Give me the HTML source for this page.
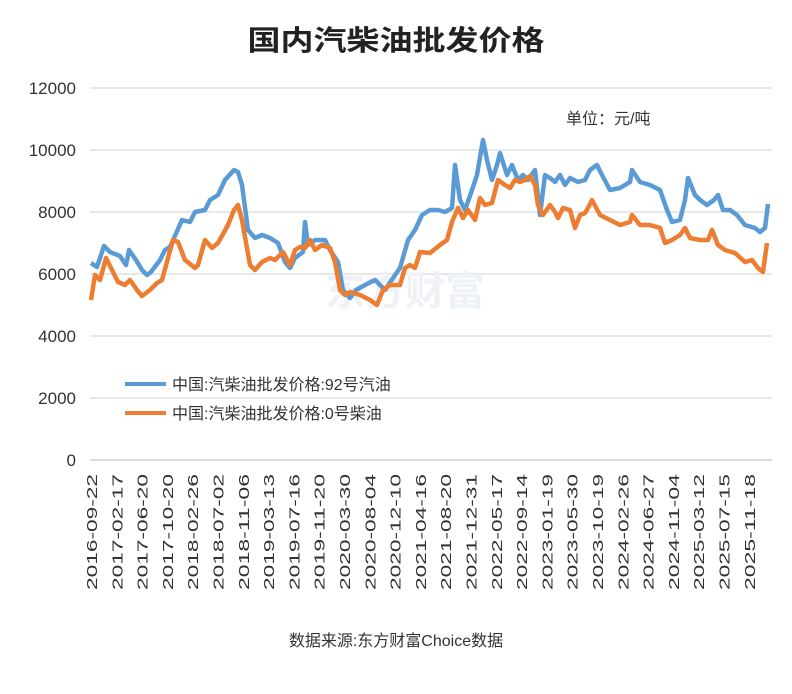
<!DOCTYPE html>
<html><head><meta charset="utf-8"><style>html,body{margin:0;padding:0;background:#fff}svg{display:block}</style></head>
<body>
<svg width="792" height="694" viewBox="0 0 792 694" xmlns="http://www.w3.org/2000/svg" font-family="'Liberation Sans','Noto Sans CJK SC',sans-serif">
<rect width="792" height="694" fill="#fff"/>
<text x="396" y="50" text-anchor="middle" font-size="28" font-weight="bold" fill="#222" textLength="297" lengthAdjust="spacingAndGlyphs">国内汽柴油批发价格</text>
<g stroke="#e0e0e0" stroke-width="1.5">
<line x1="90" y1="88" x2="772" y2="88"/><line x1="90" y1="150" x2="772" y2="150"/><line x1="90" y1="212" x2="772" y2="212"/><line x1="90" y1="274" x2="772" y2="274"/><line x1="90" y1="336" x2="772" y2="336"/><line x1="90" y1="398" x2="772" y2="398"/>
</g>
<line x1="90" y1="460" x2="772" y2="460" stroke="#d0d0d0" stroke-width="1.5"/>
<g font-size="17" fill="#333" text-anchor="end">
<text x="76" y="94">12000</text><text x="76" y="156">10000</text><text x="76" y="218">8000</text><text x="76" y="280">6000</text><text x="76" y="342">4000</text><text x="76" y="404">2000</text><text x="76" y="466">0</text>
</g>
<text x="566" y="124" font-size="16" fill="#333">单位：元/吨</text>
<text x="405" y="305" text-anchor="middle" font-size="40" font-weight="bold" fill="#eef2f6">东方财富</text>
<polyline fill="none" stroke="#5b9bd5" stroke-width="4.5" stroke-linejoin="round" points="91,263 97,267 104,246 110,252 120,256 126,265 129,250 136,260 142,270 147,275 151,272 160,260 165,250 170,247 182,220 190,222 195,212 205,210 210,200 218,195 225,180 234,170 238,172 242,185 248,230 255,238 262,235 270,238 278,243 285,262 290,268 295,258 303,252 305,222 308,245 315,240 325,240 330,250 338,262 343,290 350,298 356,290 365,285 375,280 385,290 393,278 400,268 408,240 415,230 422,215 430,210 438,210 445,212 452,208 455,165 460,200 465,210 472,190 477,175 483,140 487,160 492,180 497,165 500,153 507,175 512,165 518,180 523,175 528,180 535,170 540,215 545,175 550,178 555,182 560,175 565,185 570,178 578,182 585,180 590,170 597,165 602,175 610,190 620,188 630,182 632,170 640,182 650,185 660,190 667,210 672,222 680,220 685,200 688,178 695,195 700,200 707,205 714,200 718,195 723,210 730,210 737,215 745,225 755,228 760,232 765,228 768,204"/>
<polyline fill="none" stroke="#ed7d31" stroke-width="4.5" stroke-linejoin="round" points="91,300 95,275 100,280 106,258 112,270 118,282 125,285 130,280 137,290 142,296 150,290 157,283 162,280 168,258 173,240 178,242 185,260 195,268 198,265 205,240 212,248 218,243 228,225 234,210 238,205 242,220 250,265 255,270 262,262 270,258 275,260 283,252 290,265 295,250 300,247 305,248 310,240 315,250 322,245 330,248 335,262 340,290 345,295 350,292 360,295 370,300 377,305 383,290 390,285 400,285 405,268 410,265 415,268 420,252 430,253 440,245 447,240 452,222 458,208 463,218 468,210 475,220 480,198 485,205 492,203 498,180 505,185 510,188 515,180 520,182 525,180 530,176 535,185 538,205 543,215 550,205 555,212 558,218 563,208 570,210 575,228 580,215 585,213 588,208 592,200 600,215 610,220 620,225 630,222 632,215 640,225 650,225 660,228 665,243 672,240 680,235 685,228 690,238 700,240 708,240 712,230 718,245 725,250 735,253 745,262 752,260 758,268 763,272 767,243"/>
<line x1="125" y1="384" x2="166" y2="384" stroke="#5b9bd5" stroke-width="4"/>
<text x="172" y="390" font-size="16" fill="#333">中国:汽柴油批发价格:92号汽油</text>
<line x1="125" y1="413" x2="166" y2="413" stroke="#ed7d31" stroke-width="4"/>
<text x="172" y="419" font-size="16" fill="#333">中国:汽柴油批发价格:0号柴油</text>
<g font-size="15" fill="#333" text-anchor="end">
<text transform="translate(97,474) rotate(-90)" textLength="116" lengthAdjust="spacingAndGlyphs">2016-09-22</text>
<text transform="translate(122.3,474) rotate(-90)" textLength="116" lengthAdjust="spacingAndGlyphs">2017-02-17</text>
<text transform="translate(147.6,474) rotate(-90)" textLength="116" lengthAdjust="spacingAndGlyphs">2017-06-20</text>
<text transform="translate(172.9,474) rotate(-90)" textLength="116" lengthAdjust="spacingAndGlyphs">2017-10-20</text>
<text transform="translate(198.2,474) rotate(-90)" textLength="116" lengthAdjust="spacingAndGlyphs">2018-02-26</text>
<text transform="translate(223.5,474) rotate(-90)" textLength="116" lengthAdjust="spacingAndGlyphs">2018-07-02</text>
<text transform="translate(248.8,474) rotate(-90)" textLength="116" lengthAdjust="spacingAndGlyphs">2018-11-06</text>
<text transform="translate(274.1,474) rotate(-90)" textLength="116" lengthAdjust="spacingAndGlyphs">2019-03-13</text>
<text transform="translate(299.4,474) rotate(-90)" textLength="116" lengthAdjust="spacingAndGlyphs">2019-07-16</text>
<text transform="translate(324.7,474) rotate(-90)" textLength="116" lengthAdjust="spacingAndGlyphs">2019-11-20</text>
<text transform="translate(350,474) rotate(-90)" textLength="116" lengthAdjust="spacingAndGlyphs">2020-03-30</text>
<text transform="translate(375.3,474) rotate(-90)" textLength="116" lengthAdjust="spacingAndGlyphs">2020-08-04</text>
<text transform="translate(400.6,474) rotate(-90)" textLength="116" lengthAdjust="spacingAndGlyphs">2020-12-10</text>
<text transform="translate(425.9,474) rotate(-90)" textLength="116" lengthAdjust="spacingAndGlyphs">2021-04-16</text>
<text transform="translate(451.2,474) rotate(-90)" textLength="116" lengthAdjust="spacingAndGlyphs">2021-08-20</text>
<text transform="translate(476.5,474) rotate(-90)" textLength="116" lengthAdjust="spacingAndGlyphs">2021-12-31</text>
<text transform="translate(501.8,474) rotate(-90)" textLength="116" lengthAdjust="spacingAndGlyphs">2022-05-17</text>
<text transform="translate(527.1,474) rotate(-90)" textLength="116" lengthAdjust="spacingAndGlyphs">2022-09-14</text>
<text transform="translate(552.4,474) rotate(-90)" textLength="116" lengthAdjust="spacingAndGlyphs">2023-01-19</text>
<text transform="translate(577.7,474) rotate(-90)" textLength="116" lengthAdjust="spacingAndGlyphs">2023-05-30</text>
<text transform="translate(603,474) rotate(-90)" textLength="116" lengthAdjust="spacingAndGlyphs">2023-10-19</text>
<text transform="translate(628.3,474) rotate(-90)" textLength="116" lengthAdjust="spacingAndGlyphs">2024-02-26</text>
<text transform="translate(653.6,474) rotate(-90)" textLength="116" lengthAdjust="spacingAndGlyphs">2024-06-27</text>
<text transform="translate(678.9,474) rotate(-90)" textLength="116" lengthAdjust="spacingAndGlyphs">2024-11-04</text>
<text transform="translate(704.2,474) rotate(-90)" textLength="116" lengthAdjust="spacingAndGlyphs">2025-03-12</text>
<text transform="translate(729.5,474) rotate(-90)" textLength="116" lengthAdjust="spacingAndGlyphs">2025-07-15</text>
<text transform="translate(754.8,474) rotate(-90)" textLength="116" lengthAdjust="spacingAndGlyphs">2025-11-18</text>
</g>
<text x="396" y="646" text-anchor="middle" font-size="16" fill="#333">数据来源:东方财富Choice数据</text>
</svg>
</body></html>
